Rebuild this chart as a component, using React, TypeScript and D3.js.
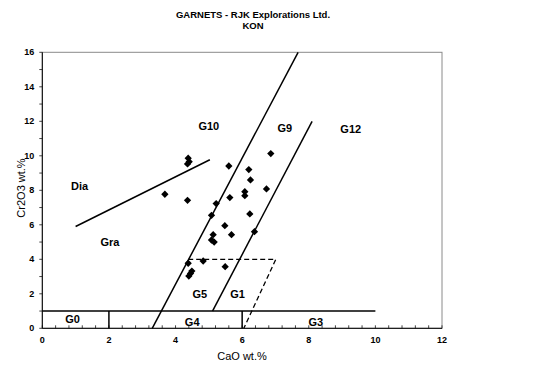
import { useEffect, useRef } from 'react'
import * as d3 from 'd3'

// garnet analyses, CaO wt.% vs Cr2O3 wt.%
const caoValues = [
  4.38, 4.41, 4.36, 3.68, 4.36, 5.6, 5.63, 5.22, 5.08, 6.86,
  6.2, 6.25, 6.08, 6.08, 6.73, 6.23, 5.48, 5.13, 5.68, 5.08,
  5.16, 6.37, 4.38, 4.83, 5.49, 4.4, 4.45, 4.49,
]
const cr2o3Values = [
  9.86, 9.66, 9.53, 7.77, 7.42, 9.41, 7.58, 7.23, 6.55, 10.13,
  9.2, 8.6, 7.92, 7.69, 8.08, 6.63, 5.95, 5.43, 5.43, 5.12,
  5.0, 5.6, 3.77, 3.9, 3.57, 3.03, 3.18, 3.32,
]

// classification boundaries (data units)
const solidLines = [
  [[1, 5.9], [5.03, 9.77]],
  [[3.3, 0], [7.68, 16]],
  [[5.11, 1], [8.1, 12]],
  [[0, 1], [10, 1]],
  [[2, 0], [2, 1]],
  [[6, 0], [6, 1]],
]
const dashedLines = [
  [[4.38, 4], [7.01, 4], [6.05, 0]],
]

const zoneNames = ['G10', 'G9', 'G12', 'Dia', 'Gra', 'G5', 'G1', 'G0', 'G4', 'G3']
const zoneX = [5.0, 7.28, 9.26, 1.12, 2.03, 4.73, 5.86, 0.91, 4.5, 8.21]
const zoneY = [11.7, 11.6, 11.56, 8.25, 5.02, 1.97, 1.97, 0.52, 0.38, 0.38]

const xTicks = [0, 2, 4, 6, 8, 10, 12]
const yTicks = [0, 2, 4, 6, 8, 10, 12, 14, 16]

const FONT = 'Arial, "Liberation Sans", sans-serif'

const GarnetPlot = () => {
  const svgRef = useRef(null)

  useEffect(() => {
    if (!svgRef.current) return
    const width = 550
    const height = 374
    const left = 42.3
    const right = 442
    const top = 52.3
    const bottom = 328.3

    d3.select(svgRef.current).selectAll('*').remove()
    const svg = d3.select(svgRef.current)
      .attr('width', width)
      .attr('height', height)

    svg.append('rect').attr('width', width).attr('height', height).attr('fill', '#fff')

    const x = d3.scaleLinear().domain([0, 12]).range([left, right])
    const y = d3.scaleLinear().domain([0, 16]).range([bottom, top])

    // plot frame
    svg.append('rect')
      .attr('x', left).attr('y', top)
      .attr('width', right - left).attr('height', bottom - top)
      .attr('fill', 'none')
      .attr('stroke', '#8a8a8a')
      .attr('stroke-width', 1)

    // minor ticks
    const xMinor = d3.range(0, 12.001, 0.4)
    svg.append('g').selectAll('line')
      .data(xMinor)
      .enter().append('line')
      .attr('x1', d => x(d)).attr('x2', d => x(d))
      .attr('y1', bottom).attr('y2', bottom - 3)
      .attr('stroke', '#444')
    svg.append('g').selectAll('line')
      .data(d3.range(0, 16.001, 1))
      .enter().append('line')
      .attr('x1', left - 3).attr('x2', left)
      .attr('y1', d => y(d)).attr('y2', d => y(d))
      .attr('stroke', '#444')

    // axes lines
    svg.append('line').attr('x1', left).attr('x2', left).attr('y1', top).attr('y2', bottom)
      .attr('stroke', '#000')
    svg.append('line').attr('x1', left).attr('x2', right).attr('y1', bottom).attr('y2', bottom)
      .attr('stroke', '#000')

    // tick labels
    svg.append('g').selectAll('text')
      .data(xTicks)
      .enter().append('text')
      .attr('x', d => x(d))
      .attr('y', bottom + 15)
      .attr('text-anchor', 'middle')
      .attr('font-family', FONT)
      .attr('font-size', '9px')
      .attr('font-weight', 'bold')
      .text(d => d)
    svg.append('g').selectAll('text')
      .data(yTicks)
      .enter().append('text')
      .attr('x', left - 8)
      .attr('y', d => y(d) + 3)
      .attr('text-anchor', 'end')
      .attr('font-family', FONT)
      .attr('font-size', '9px')
      .attr('font-weight', 'bold')
      .text(d => d)

    // axis titles
    svg.append('text')
      .attr('x', 242).attr('y', 360)
      .attr('text-anchor', 'middle')
      .attr('font-family', FONT)
      .attr('font-size', '11px')
      .text('CaO wt.%')
    svg.append('text')
      .attr('transform', 'translate(25,188) rotate(-90)')
      .attr('text-anchor', 'middle')
      .attr('font-family', FONT)
      .attr('font-size', '11px')
      .text('Cr2O3 wt.%')

    // title
    svg.append('text')
      .attr('x', 253).attr('y', 18)
      .attr('text-anchor', 'middle')
      .attr('font-family', FONT)
      .attr('font-size', '9.5px')
      .attr('font-weight', 'bold')
      .text('GARNETS - RJK Explorations Ltd.')
    svg.append('text')
      .attr('x', 253).attr('y', 29)
      .attr('text-anchor', 'middle')
      .attr('font-family', FONT)
      .attr('font-size', '9.5px')
      .attr('font-weight', 'bold')
      .text('KON')

    // boundaries
    const line = d3.line().x(d => x(d[0])).y(d => y(d[1]))
    svg.append('g').selectAll('path')
      .data(solidLines)
      .enter().append('path')
      .attr('d', line)
      .attr('fill', 'none')
      .attr('stroke', '#000')
      .attr('stroke-width', 1.5)
    svg.append('g').selectAll('path')
      .data(dashedLines)
      .enter().append('path')
      .attr('d', line)
      .attr('fill', 'none')
      .attr('stroke', '#000')
      .attr('stroke-width', 1.3)
      .attr('stroke-dasharray', '5,3')

    // zone labels
    svg.append('g').selectAll('text')
      .data(zoneNames)
      .enter().append('text')
      .attr('x', (d, i) => x(zoneX[i]))
      .attr('y', (d, i) => y(zoneY[i]) + 4)
      .attr('text-anchor', 'middle')
      .attr('font-family', FONT)
      .attr('font-size', '11px')
      .attr('font-weight', 'bold')
      .text(d => d)

    // points
    const diamond = d3.symbol().type(d3.symbolDiamond2).size(34)
    svg.append('g').selectAll('path')
      .data(caoValues.map((c, i) => [c, cr2o3Values[i]]))
      .enter().append('path')
      .attr('transform', d => `translate(${x(d[0])},${y(d[1])})`)
      .attr('d', diamond)
      .attr('fill', '#000')
  }, [])

  return <svg ref={svgRef} style={{ position: 'absolute', left: 0, top: 0 }}></svg>
}

export default function App() {
  return <GarnetPlot />
}
